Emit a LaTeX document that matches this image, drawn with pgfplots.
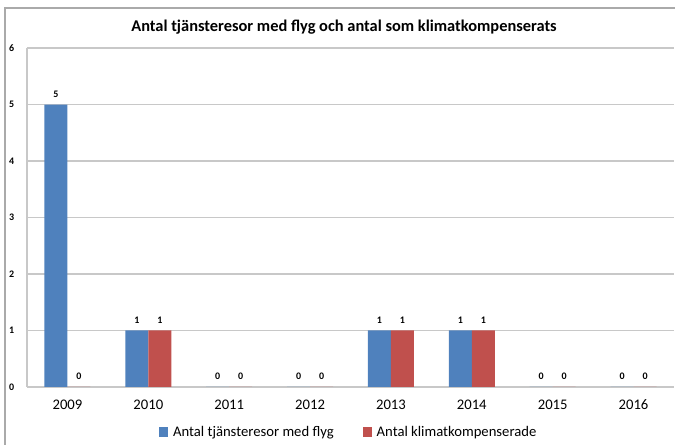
\documentclass[border=0pt]{standalone}
\usepackage{fontspec}
\setmainfont{Carlito}
\usepackage{pgfplots}
\pgfplotsset{compat=1.18}
\definecolor{barblue}{RGB}{79,129,189}
\definecolor{barred}{RGB}{192,80,77}
\definecolor{framegray}{RGB}{170,170,170}
\definecolor{gridgray}{RGB}{200,200,200}
\begin{document}
\begin{tikzpicture}[x=0.75pt,y=0.75pt]
\useasboundingbox (0,0) rectangle (675,445);
\draw[framegray,line width=0.8pt] (5,0) -- (5,437) -- (675,437);
\node[font=\fontsize{12.3}{14}\selectfont\bfseries] at (344,418) {Antal tjänsteresor med flyg och antal som klimatkompenserats};
\begin{axis}[
  at={(20.25pt,43.5pt)}, anchor=south west,
  scale only axis, width=485.25pt, height=254.25pt,
  ybar=0pt, bar width=17.25pt,
  xmin=-0.5, xmax=7.5, ymin=0, ymax=6,
  xtick={0,...,7},
  xticklabels={2009,2010,2011,2012,2013,2014,2015,2016},
  ytick={0,...,6},
  /pgf/number format/assume math mode=true,
  major tick length=0pt,
  axis x line*=bottom, axis y line*=left,
  axis line style={gridgray, line width=0.8pt, -},
  ymajorgrids, grid style={gridgray, line width=0.8pt},
  xticklabel style={font=\fontsize{11}{13}\selectfont, yshift=-6pt},
  yticklabel style={font=\fontsize{7.5}{8}\selectfont\bfseries, xshift=-6pt},
  nodes near coords,
  every node near coord/.append style={font=\fontsize{7.5}{8}\selectfont\bfseries, yshift=2pt},
  legend style={at={(0.498,-0.1327)}, anchor=center, draw=none, legend columns=-1,
    font=\fontsize{11}{12}\selectfont, column sep=1.5pt, /tikz/every even column/.append style={column sep=20pt}},
  legend image code/.code={\fill[#1] (0pt,-3.4pt) rectangle (6.8pt,3.4pt);},
]
\addplot[fill=barblue, draw=none] coordinates {(0,5) (1,1) (2,0) (3,0) (4,1) (5,1) (6,0) (7,0)};
\addplot[fill=barred, draw=none] coordinates {(0,0) (1,1) (2,0) (3,0) (4,1) (5,1) (6,0) (7,0)};
\legend{Antal tjänsteresor med flyg, Antal klimatkompenserade}
\end{axis}
\end{tikzpicture}
\end{document}
